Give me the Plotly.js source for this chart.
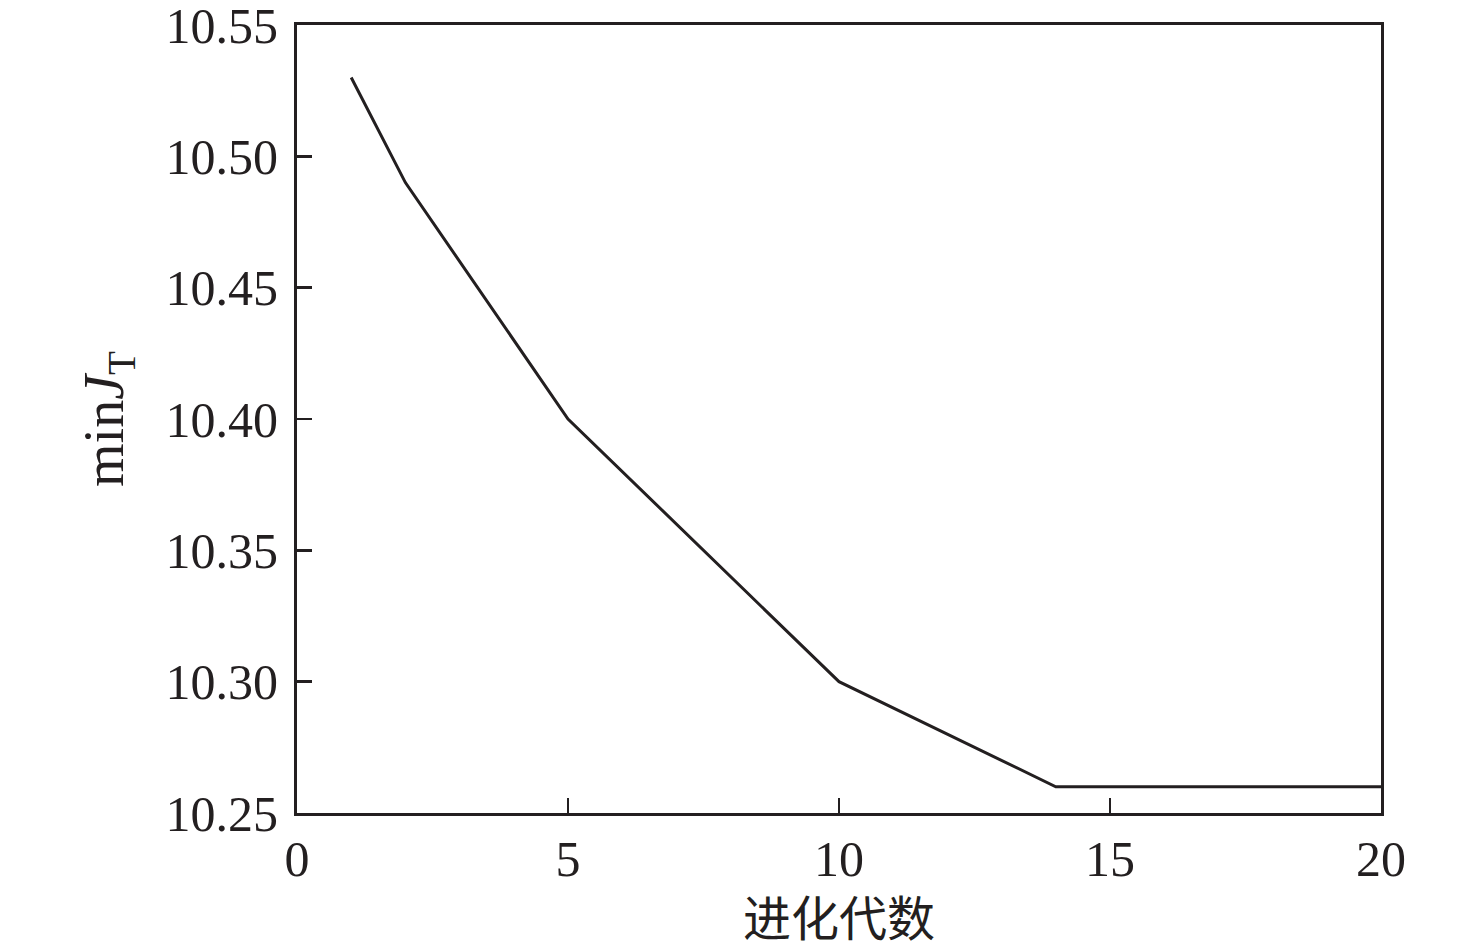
<!DOCTYPE html>
<html>
<head>
<meta charset="utf-8">
<script src="https://cdn.plot.ly/plotly-3.0.1.min.js"></script>
<style>html,body{margin:0;padding:0;background:#fff;}#chart{width:1476px;height:950px;}</style>
</head>
<body>
<div id="chart"></div>
<script>
const generations = [1, 2, 5, 10, 14, 20];
const minJT = [10.53, 10.49, 10.40, 10.30, 10.26, 10.26];
const xTicks = [0, 5, 10, 15, 20];
const yTicks = [10.25, 10.30, 10.35, 10.40, 10.45, 10.50, 10.55];
const yTickText = yTicks.map(v => v.toFixed(2));
const xTitle = '进化代数';
const yTitle = 'min<i>J</i><sub>T</sub>';

const ink = '#231f20';
const serif = '"Liberation Serif", "Times New Roman", serif';

Plotly.newPlot('chart', [{
  x: generations, y: minJT, type: 'scatter', mode: 'lines',
  line: {color: ink, width: 3}, hoverinfo: 'skip'
}], {
  width: 1476, height: 950,
  margin: {l: 297, r: 95, t: 25, b: 137},
  paper_bgcolor: '#fff', plot_bgcolor: '#fff',
  showlegend: false,
  font: {family: serif, color: ink, size: 50},
  xaxis: {
    range: [0, 20], tickvals: xTicks, ticktext: xTicks.map(String),
    ticks: 'inside', ticklen: 15, tickwidth: 2.5, tickcolor: ink,
    showline: true, linecolor: ink, linewidth: 3, mirror: true,
    showgrid: false, zeroline: false, ticklabelstandoff: 0,
    ticklabeloverflow: 'allow',
    tickfont: {family: serif, size: 50, color: ink},
    title: {text: xTitle, font: {family: '"Noto Sans CJK SC", serif', size: 48, color: ink}, standoff: 6}
  },
  yaxis: {
    range: [10.25, 10.55], tickvals: yTicks, ticktext: yTickText,
    ticks: 'inside', ticklen: 15, tickwidth: 2.5, tickcolor: ink,
    showline: true, linecolor: ink, linewidth: 3, mirror: true,
    showgrid: false, zeroline: false, ticklabelstandoff: 6,
    ticklabeloverflow: 'allow',
    tickfont: {family: serif, size: 50, color: ink},
    title: {text: yTitle, font: {family: serif, size: 56, color: ink}, standoff: 24}
  }
}, {displayModeBar: false, staticPlot: true});
</script>
</body>
</html>
